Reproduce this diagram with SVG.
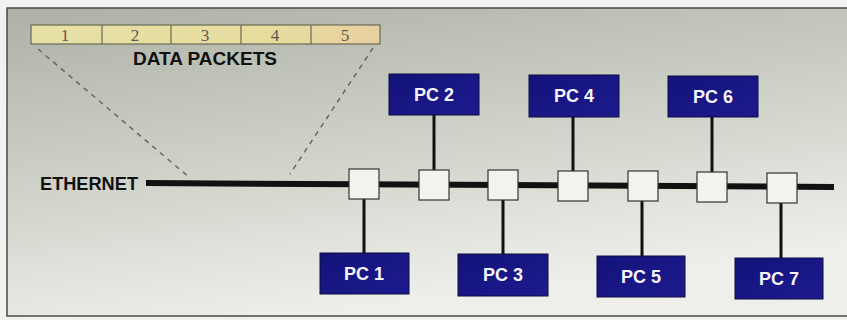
<svg xmlns="http://www.w3.org/2000/svg" width="847" height="320" viewBox="0 0 847 320">
<defs>
<linearGradient id="bg" x1="0" y1="0" x2="0.35" y2="1">
<stop offset="0" stop-color="#adb1a5"/>
<stop offset="0.5" stop-color="#cdd0c6"/>
<stop offset="1" stop-color="#eeefeb"/>
</linearGradient>
<linearGradient id="pk" x1="0" y1="0" x2="1" y2="0">
<stop offset="0" stop-color="#e6e1a6"/>
<stop offset="0.7" stop-color="#e8dc9e"/>
<stop offset="1" stop-color="#e9cfa0"/>
</linearGradient>
<linearGradient id="pc" x1="0" y1="0" x2="1" y2="1">
<stop offset="0" stop-color="#13137a"/>
<stop offset="1" stop-color="#1e1a8e"/>
</linearGradient>
</defs>
<style>
.pcbox{fill:url(#pc);stroke:#0c0c40;stroke-width:1}
.pct{font-family:"Liberation Sans",Arial,sans-serif;font-weight:bold;font-size:18px;fill:#f4f4ff;text-anchor:middle}
.sw{fill:#f2f2ee;stroke:#333;stroke-width:1.2}
.link{stroke:#111;stroke-width:3;fill:none}
.num{font-family:"Liberation Serif",serif;font-size:17px;fill:#5a5a50;text-anchor:middle}
.lbl{font-family:"Liberation Sans",Arial,sans-serif;font-weight:bold;font-size:18px;fill:#111}
</style>
<rect x="0" y="0" width="847" height="320" fill="#f1f1ef"/>
<rect x="7" y="8" width="845" height="308" fill="url(#bg)" stroke="#4a4a48" stroke-width="1.5"/>

<g id="packets">
<rect x="31" y="25" width="349" height="19" fill="url(#pk)" stroke="#6a6a55" stroke-width="1.2"/>
<path d="M102 25V44M171 25V44M241 25V44M311 25V44" stroke="#6a6a55" stroke-width="1.2"/>
<text class="num" x="65" y="41">1</text>
<text class="num" x="135" y="41">2</text>
<text class="num" x="205" y="41">3</text>
<text class="num" x="275" y="41">4</text>
<text class="num" x="345" y="41">5</text>
<text class="lbl" x="205" y="65" text-anchor="middle" textLength="144" lengthAdjust="spacingAndGlyphs">DATA PACKETS</text>
</g>

<g id="connectors">
<path d="M38 49L190 178M373 48L290 174" stroke="#666" stroke-width="1.5" stroke-dasharray="5,5" fill="none"/>
<line x1="146" y1="183" x2="834" y2="187" stroke="#111" stroke-width="6"/>
<line class="link" x1="364" y1="199" x2="364" y2="253"/>
<line class="link" x1="434" y1="115" x2="434" y2="170"/>
<line class="link" x1="503" y1="200" x2="503" y2="254"/>
<line class="link" x1="573" y1="117" x2="573" y2="171"/>
<line class="link" x1="642" y1="201" x2="642" y2="256"/>
<line class="link" x1="712" y1="117" x2="712" y2="172"/>
<line class="link" x1="781" y1="203" x2="781" y2="258"/>
</g>

<g id="ethernet">
<text class="lbl" x="40" y="190" font-size="17" textLength="98" lengthAdjust="spacingAndGlyphs">ETHERNET</text>
</g>

<g id="switches">
<rect class="sw" x="349" y="169" width="30" height="30"/>
<rect class="sw" x="419" y="170" width="30" height="30"/>
<rect class="sw" x="488" y="170" width="30" height="30"/>
<rect class="sw" x="558" y="171" width="30" height="30"/>
<rect class="sw" x="628" y="171" width="30" height="30"/>
<rect class="sw" x="697" y="172" width="30" height="30"/>
<rect class="sw" x="767" y="173" width="30" height="30"/>
</g>

<g id="pc1"><rect class="pcbox" x="320" y="253" width="89" height="41"/><text class="pct" x="364" y="280">PC 1</text></g>
<g id="pc2"><rect class="pcbox" x="389" y="74" width="90" height="41"/><text class="pct" x="434" y="101">PC 2</text></g>
<g id="pc3"><rect class="pcbox" x="458" y="254" width="90" height="42"/><text class="pct" x="503" y="281">PC 3</text></g>
<g id="pc4"><rect class="pcbox" x="529" y="75" width="90" height="42"/><text class="pct" x="574" y="102">PC 4</text></g>
<g id="pc5"><rect class="pcbox" x="597" y="256" width="88" height="41"/><text class="pct" x="641" y="283">PC 5</text></g>
<g id="pc6"><rect class="pcbox" x="668" y="76" width="90" height="41"/><text class="pct" x="713" y="103">PC 6</text></g>
<g id="pc7"><rect class="pcbox" x="735" y="258" width="88" height="41"/><text class="pct" x="779" y="285">PC 7</text></g>
</svg>
